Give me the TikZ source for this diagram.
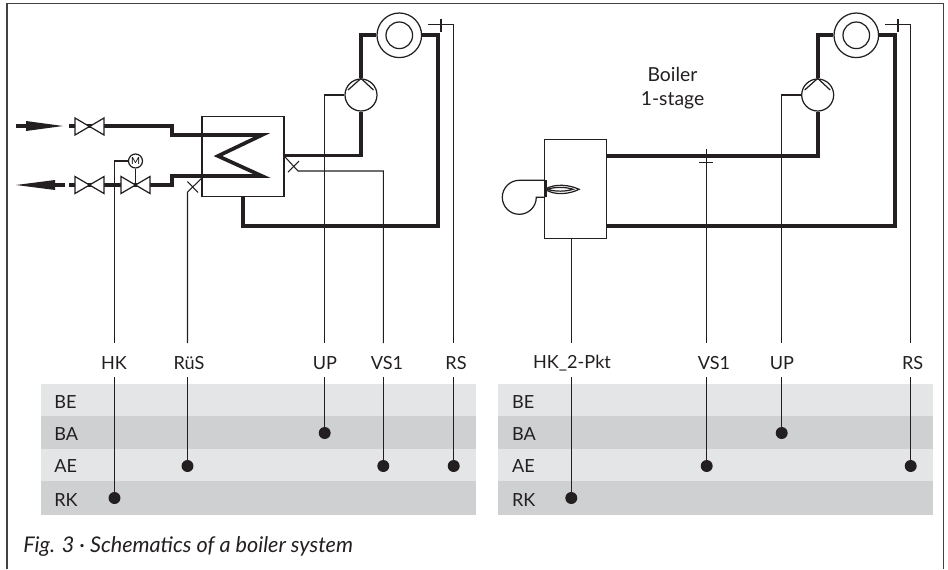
\documentclass[tikz,border=0pt]{standalone}
\usepackage{fontspec}
\setmainfont{Lato}
\definecolor{rowlight}{HTML}{E4E5E7}
\definecolor{rowdark}{HTML}{CFD0D2}
\definecolor{inkline}{HTML}{231F20}
\tikzset{
    pipe/.style={line width=2.1pt,draw=inkline},
    signal/.style={line width=0.6pt,draw=inkline},
    part/.style={line width=0.7pt,draw=inkline},
    sigdot/.style={circle,fill=inkline,inner sep=0pt,minimum size=0.24cm},
    siglabel/.style={inner sep=0pt,font=\fontsize{10.3}{13}\selectfont,text=inkline},
    rowlabel/.style={anchor=west,inner sep=0pt,font=\fontsize{10.3}{13}\selectfont,text=inkline},
    ring/.style={circle,part,fill=white,inner sep=0pt},
    valve/.pic={\draw[part,fill=white] (-14.5,-8.5) -- (14.5,8.5) -- (14.5,-8.5) -- (-14.5,8.5) -- cycle;}
}
\begin{document}
\begin{tikzpicture}[x=0.02cm,y=-0.02cm]
    \useasboundingbox (0,0) rectangle (948,569);
    \draw[line width=0.75pt,draw=inkline!85] (7,569) -- (7,3.7) -- (943.3,3.7) -- (943.3,569);

    % rows
    \foreach \xa/\xb/\xl in {41/476/54, 498/932.7/511.7} {
        \fill[rowlight] (\xa,384) rectangle (\xb,416);
        \fill[rowdark] (\xa,416) rectangle (\xb,449);
        \fill[rowlight] (\xa,449) rectangle (\xb,481);
        \fill[rowdark] (\xa,481) rectangle (\xb,514.7);
        \node[rowlabel] at (\xl,402) {BE};
        \node[rowlabel] at (\xl,434) {BA};
        \node[rowlabel] at (\xl,466) {AE};
        \node[rowlabel] at (\xl,500) {RK};
    }

    % signal labels and dots
    \foreach \n/\x/\yd/\t/\xt in {hk/114.5/498/HK/114, rues/187.5/466/RüS/189, upa/324.7/433/UP/325,
        vsa/383.3/466/VS1/387, rsa/453.7/466/RS/456, hkb/571.3/498/HK\_2-Pkt/572,
        vsb/706.7/466/VS1/714, upb/781.7/433/UP/782, rsb/910.7/466/RS/912.7} {
        \node[siglabel] (\n label) at (\xt,363) {\t};
        \coordinate (\n top) at (\x,343);
        \coordinate (\n low) at (\x,377);
        \node[sigdot] (\n dot) at (\x,\yd) {};
        \draw[signal] (\n low) -- (\n dot);
    }

    % left system
    \node[draw,part,minimum width=1.64cm,minimum height=1.61cm,inner sep=0pt] (exch) at (243,156.4) {};
    \node[ring,minimum size=0.64cm] (pumpa) at (361,95) {};
    \node[ring,minimum size=0.892cm] (burna) at (399.3,35.3) {};
    \node[ring,minimum size=0.532cm] (burnai) at (399.3,35.3) {};
    \node[ring,minimum size=0.28cm,font=\fontsize{5.5}{6}\selectfont] (motor) at (135.5,161) {M};
    \coordinate (ina) at (16,126);
    \coordinate (outa) at (65,185);
    \coordinate (vstem) at (135.5,185);
    \draw[pipe] (ina) -- (26,126);
    \fill[inkline] (26,121) -- (63,126) -- (26,131) -- cycle;
    \draw[pipe] (69,126) -- (172,126) -- (172,135) -- (262,135) -- (218,156) -- (262,176) -- (172,176) -- (172,185) -- (69,185);
    \draw[pipe] (outa) -- (55,185);
    \fill[inkline] (55,180) -- (16,185) -- (55,190) -- cycle;
    \pic at (89.5,126.5) {valve};
    \pic at (89.5,185) {valve};
    \pic at (135.5,185) {valve};
    \draw[signal] (motor.south) -- (vstem);
    \draw[pipe] (exch.east |- 0,155.5) -- (361,155.5) -- (pumpa.south);
    \draw[pipe] (pumpa.north) -- (361,35.3) -- (burna.west);
    \draw[pipe] (burna.east) -- (438.3,35.3) -- (438.3,225.7) -- (243,225.7) -- (exch.south);
    \draw[part] (348,90) -- (pumpa.north) -- (373.5,90);

    % left sensors
    \draw[signal] (motor.west) -| (hktop);
    \draw[signal] (202,178) -- (187.5,192) -- (ruestop);
    \draw[signal] (187.5,181.5) -- (198,192.5);
    \draw[signal] (pumpa.west) -| (upatop);
    \draw[signal] (283.7,155.5) -- (298,171) -| (vsatop);
    \draw[signal] (288,172) -- (299,161);
    \draw[signal] (428,24.5) -| (rsatop);
    \draw[signal] (441,19) -- (441,32);

    % right system
    \node[draw,part,minimum width=1.232cm,minimum height=1.98cm,inner sep=0pt] (boiler) at (575.5,189.2) {};
    \node[ring,minimum size=0.64cm] (pumpb) at (817.7,95) {};
    \node[ring,minimum size=0.892cm] (burnb) at (856.3,35.3) {};
    \node[ring,minimum size=0.532cm] (burnbi) at (856.3,35.3) {};
    \draw[pipe] (boiler.east |- 0,156) -- (817.7,156) -- (pumpb.south);
    \draw[pipe] (pumpb.north) -- (817.7,35.3) -- (burnb.west);
    \draw[pipe] (burnb.east) -- (895,35.3) -- (895,225.7) -- (boiler.east |- 0,225.7);
    \draw[part] (804.7,90) -- (pumpb.north) -- (830.2,90);
    \draw[part] (545,180.3) -- (519.3,180.3) arc[start angle=-90,end angle=-360,radius=17] -- (545,197.3);
    \draw[line width=1.2pt,draw=inkline] (545.5,180.3) -- (545.5,197.3);
    \draw[part,fill=white] (545,189.3) .. controls (555,183) and (570,185) .. (579,189.3) .. controls (570,194) and (555,196) .. (545,189.3);
    \draw[part] (547,189.3) .. controls (556,186.5) and (566,187) .. (573,189.3) .. controls (566,191.5) and (556,192) .. (547,189.3);

    % right sensors
    \draw[signal] (boiler.south -| hkbtop) -- (hkbtop);
    \draw[signal] (706.7,149.3) -- (vsbtop);
    \draw[signal] (699,162.7) -- (712.7,162.7);
    \draw[signal] (pumpb.west) -| (upbtop);
    \draw[signal] (885.3,24.5) -| (rsbtop);
    \draw[signal] (898,19) -- (898,32);

    \node[align=center,inner sep=0pt,font=\fontsize{11}{13.3}\selectfont,text=inkline] (boilertext) at (672.5,88) {Boiler\\1-stage};
    \node[anchor=west,inner sep=0pt,font=\itshape\fontsize{12.3}{14}\selectfont,text=inkline] (caption) at (23,547) {Fig. 3 · Schematics of a boiler system};
\end{tikzpicture}
\end{document}
